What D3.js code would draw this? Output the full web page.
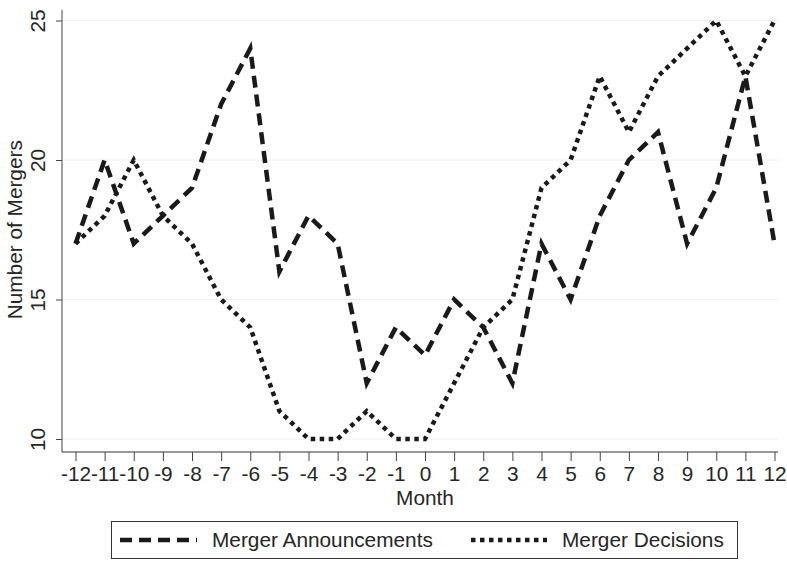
<!DOCTYPE html>
<html>
<head>
<meta charset="utf-8">
<script src="https://cdn.jsdelivr.net/npm/d3@7"></script>
<style>
  body { margin: 0; background: #fff; }
  svg text { font-family: "Liberation Sans", Arial, Helvetica, sans-serif; fill: #262626; }
</style>
</head>
<body>
<svg id="chart" width="787" height="561"></svg>
<script>
// months relative to the event
var months = [-12,-11,-10,-9,-8,-7,-6,-5,-4,-3,-2,-1,0,1,2,3,4,5,6,7,8,9,10,11,12];
var announcements = [17,20,17,18,19,22,24,16,18,17,12,14,13,15,14,12,17,15,18,20,21,17,19,23,17];
var decisions = [17,18,20,18,17,15,14,11,10,10,11,10,10,12,14,15,19,20,23,21,23,24,25,23,25];
var yTicks = [10, 15, 20, 25];
var seriesNames = ["Merger Announcements", "Merger Decisions"];

const width = 787, height = 561;
const plotLeft = 62, plotRight = 778, plotTop = 10, axisY = 452;
const fs = 20.8;

var svg = d3.select('#chart');

var x = d3.scaleLinear()
  .domain([-12, 12])
  .range([75.5, 774.5]);

var y = d3.scaleLinear()
  .domain([10, 25])
  .range([439, 20.5]);

// grid lines
svg.append('g')
  .selectAll('line')
  .data(yTicks)
  .enter().append('line')
    .attr('x1', plotLeft)
    .attr('x2', plotRight)
    .attr('y1', d => y(d))
    .attr('y2', d => y(d))
    .attr('stroke', '#eeeeee')
    .attr('stroke-width', 1);

// y axis
var yAxis = svg.append('g')
  .attr('transform', `translate(${plotLeft},0)`)
  .call(d3.axisLeft(y).tickValues(yTicks).tickSize(6).tickPadding(4));
yAxis.select('.domain').attr('d', `M0,${plotTop}V${axisY}`).attr('stroke', '#444');
yAxis.selectAll('.tick line').attr('stroke', '#444');
yAxis.selectAll('.tick text')
  .attr('x', null).attr('dy', null)
  .attr('transform', 'translate(-17,0) rotate(-90)')
  .attr('text-anchor', 'middle')
  .attr('font-size', fs);

// x axis
var xAxis = svg.append('g')
  .attr('transform', `translate(0,${axisY})`)
  .call(d3.axisBottom(x).tickValues(months).tickFormat(d => String(d)).tickSize(9).tickPadding(6));
xAxis.select('.domain').attr('d', `M${plotLeft},0H${plotRight}`).attr('stroke', '#333');
xAxis.selectAll('.tick line').attr('stroke', '#444');
xAxis.selectAll('.tick text').attr('font-size', fs).attr('dy', '0.68em');

// axis titles
svg.append('text')
  .attr('transform', `translate(22,${(y(10) + y(25)) / 2}) rotate(-90)`)
  .attr('text-anchor', 'middle')
  .attr('font-size', fs)
  .text('Number of Mergers');

svg.append('text')
  .attr('x', x(0))
  .attr('y', 505)
  .attr('text-anchor', 'middle')
  .attr('font-size', fs)
  .text('Month');

// lines
var line = d3.line()
  .x((d, i) => x(months[i]))
  .y(d => y(d));

svg.append('path')
  .datum(announcements)
  .attr('fill', 'none')
  .attr('stroke', '#1a1a1a')
  .attr('stroke-width', 4.5)
  .attr('stroke-dasharray', '12,7')
  .attr('d', line);

svg.append('path')
  .datum(decisions)
  .attr('fill', 'none')
  .attr('stroke', '#1a1a1a')
  .attr('stroke-width', 4.5)
  .attr('stroke-dasharray', '4.5,4.5')
  .attr('d', line);

// legend
var legend = svg.append('g');
legend.append('rect')
  .attr('x', 111.5).attr('y', 521.5)
  .attr('width', 626).attr('height', 37)
  .attr('fill', 'white')
  .attr('stroke', '#333').attr('stroke-width', 1);

legend.append('line')
  .attr('x1', 120).attr('x2', 197).attr('y1', 540).attr('y2', 540)
  .attr('stroke', '#1a1a1a').attr('stroke-width', 4.5)
  .attr('stroke-dasharray', '12,7');
legend.append('text')
  .attr('x', 212).attr('y', 547)
  .attr('font-size', fs)
  .text(seriesNames[0]);

legend.append('line')
  .attr('x1', 471).attr('x2', 547).attr('y1', 540).attr('y2', 540)
  .attr('stroke', '#1a1a1a').attr('stroke-width', 4.5)
  .attr('stroke-dasharray', '4.5,4.5');
legend.append('text')
  .attr('x', 562).attr('y', 547)
  .attr('font-size', fs)
  .text(seriesNames[1]);
</script>
</body>
</html>
